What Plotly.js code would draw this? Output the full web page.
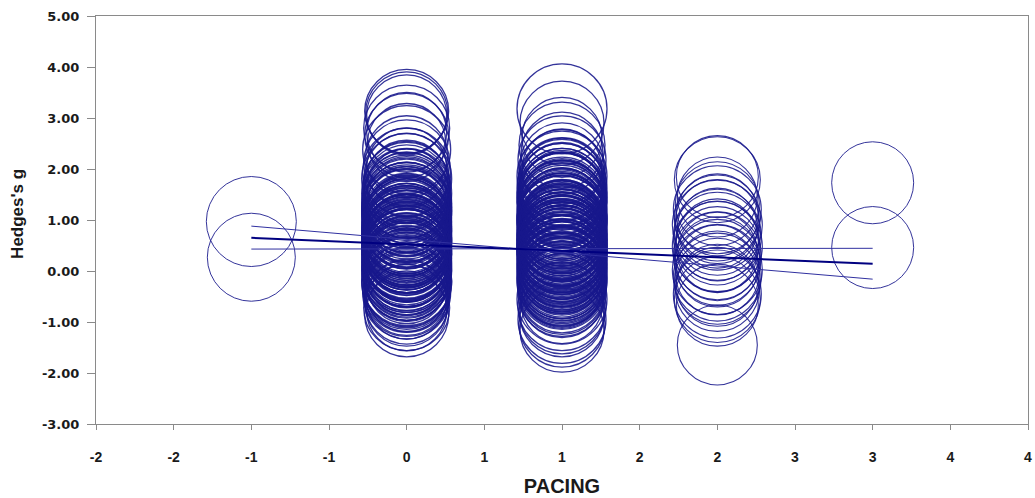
<!DOCTYPE html>
<html>
<head>
<meta charset="utf-8">
<script src="https://cdn.plot.ly/plotly-3.0.1.min.js"></script>
<style>html,body{margin:0;padding:0;background:#fff;}#chart{width:1035px;height:498px;}</style>
</head>
<body>
<div id="chart"></div>
<script>
// Pacing levels and Hedges's g per study
const pacingLevels = [-1, 0, 1, 2, 3];

const gAtMinus1 = [0.97, 0.27];
const sizeAtMinus1 = [90, 88];

const gAt0 = [3.13, 3.10, 3.06, 2.80, 2.72, 2.66, 2.52, 2.38, 2.24, 2.12, 2.02, 1.94, 1.88, 1.81, 1.76, 1.70, 1.66, 1.61, 1.57, 1.52,
  1.49, 1.44, 1.41, 1.37, 1.33, 1.29, 1.26, 1.22, 1.19, 1.15, 1.12, 1.08, 1.05, 1.03, 0.99, 0.96, 0.93, 0.91, 0.88, 0.85,
  0.83, 0.80, 0.77, 0.75, 0.72, 0.70, 0.67, 0.65, 0.62, 0.60, 0.58, 0.55, 0.53, 0.50, 0.48, 0.46, 0.43, 0.41, 0.38, 0.36,
  0.33, 0.31, 0.28, 0.25, 0.23, 0.20, 0.17, 0.15, 0.12, 0.09, 0.06, 0.03, 0.01, -0.03, -0.06, -0.10, -0.13, -0.17, -0.21, -0.25,
  -0.30, -0.34, -0.39, -0.44, -0.49, -0.55, -0.61, -0.67, -0.72, -0.78, -0.86,
  1.63, 1.46, 1.31, 1.17, 1.01, 0.94, 0.87, 0.79, 0.73, 0.68, 0.64, 0.57, 0.52, 0.47, 0.44, 0.40, 0.35, 0.29, 0.26, 0.21,
  0.14, 0.07, 0.02, -0.04, -0.08, -0.15, -0.19, -0.27, -0.36, -0.42, 0.56, 0.61, 0.71, 0.81, 0.97, 1.10, 1.24, 0.49, 0.39, 0.18];
const sizeAt0 = [84, 82, 80, 86, 80, 84, 78, 88, 82, 86, 80, 88, 84, 90, 82, 86, 88, 80, 84, 90,
  86, 82, 88, 84, 90, 86, 80, 88, 84, 86, 90, 82, 88, 86, 84, 90, 80, 88, 86, 82,
  90, 84, 88, 86, 80, 90, 84, 88, 82, 86, 90, 84, 88, 80, 86, 90, 82, 88, 84, 86,
  90, 80, 88, 84, 86, 82, 90, 86, 84, 88, 80, 86, 90, 84, 82, 88, 86, 84, 90, 80,
  86, 88, 82, 84, 86, 80, 84, 82, 86, 80, 84,
  86, 88, 84, 90, 86, 88, 82, 90, 86, 84, 88, 90, 86, 82, 88, 84, 90, 86, 88, 84,
  86, 90, 82, 88, 86, 84, 90, 86, 84, 88, 86, 90, 84, 88, 86, 82, 90, 88, 84, 86];

const gAt1 = [3.18, 2.90, 2.62, 2.47, 2.31, 2.18, 2.08, 2.00, 1.93, 1.86, 1.80, 1.75, 1.70, 1.66, 1.62, 1.58, 1.54, 1.50, 1.47, 1.43,
  1.40, 1.37, 1.33, 1.30, 1.27, 1.24, 1.21, 1.18, 1.15, 1.12, 1.09, 1.06, 1.04, 1.01, 0.98, 0.95, 0.93, 0.90, 0.88, 0.85,
  0.82, 0.80, 0.77, 0.75, 0.72, 0.70, 0.67, 0.65, 0.63, 0.60, 0.58, 0.56, 0.53, 0.51, 0.49, 0.46, 0.44, 0.42, 0.39, 0.37,
  0.35, 0.32, 0.30, 0.28, 0.25, 0.23, 0.21, 0.18, 0.16, 0.13, 0.11, 0.08, 0.06, 0.03, 0.01, -0.02, -0.05, -0.08, -0.11, -0.14,
  -0.17, -0.20, -0.24, -0.28, -0.32, -0.37, -0.42, -0.48, -0.55, -0.62, -0.70, -0.78, -0.86, -0.95, -1.04, -1.16,
  1.72, 1.56, 1.45, 1.35, 1.25, 1.14, 1.03, 0.96, 0.91, 0.86, 0.78, 0.73, 0.68, 0.62, 0.57, 0.52, 0.47, 0.43, 0.38, 0.33,
  0.27, 0.22, 0.17, 0.12, 0.07, 0.02, -0.04, -0.09, -0.15, -0.22, -0.30, -0.40, 0.55, 0.61, 0.66, 0.71, 0.81, 0.89, 0.99, 1.08,
  1.19, 1.31, 1.49, 0.41, 0.36, 0.24, 0.14, 0.04, -0.12, 0.50];
const sizeAt1 = [90, 84, 80, 86, 82, 88, 84, 80, 86, 90, 82, 88, 84, 86, 90, 80, 88, 84, 86, 90,
  82, 88, 86, 84, 90, 80, 88, 86, 82, 90, 84, 88, 86, 80, 90, 84, 88, 82, 86, 90,
  84, 88, 80, 86, 90, 82, 88, 84, 86, 90, 80, 88, 84, 86, 82, 90, 88, 84, 86, 80,
  90, 84, 88, 82, 86, 90, 84, 80, 88, 86, 82, 90, 84, 88, 86, 80, 90, 84, 88, 82,
  86, 90, 84, 88, 80, 86, 88, 84, 90, 82, 88, 86, 84, 88, 86, 84,
  88, 86, 90, 84, 88, 86, 90, 82, 88, 86, 84, 90, 88, 86, 84, 90, 82, 88, 86, 90,
  84, 88, 86, 90, 82, 88, 84, 86, 90, 88, 84, 86, 88, 90, 84, 86, 88, 82, 90, 86,
  84, 88, 86, 90, 84, 88, 86, 84, 88, 90];

const gAt2 = [1.85, 1.79, 1.45, 1.32, 1.20, 1.10, 1.04, 0.97, 0.90, 0.84, 0.76, 0.68, 0.61, 0.55, 0.48, 0.42, 0.37, 0.30, 0.24, 0.17,
  0.10, 0.03, -0.04, -0.12, -0.20, -0.28, -0.36, -0.45, -0.56, -0.67, -1.45];
const sizeAt2 = [82, 86, 80, 84, 88, 82, 86, 84, 90, 80, 86, 88, 82, 84, 90, 86, 80, 88, 84, 86,
  82, 90, 84, 88, 86, 82, 84, 88, 86, 82, 80];

const gAt3 = [1.73, 0.46];
const sizeAt3 = [82, 82];

// Regression line and its bounds at the end points
const regX = [-1, 3];
const regFit = [0.65, 0.14];
const regBoundA = [0.88, -0.16];
const regBoundB = [0.43, 0.445];

// X tick positions and their (rounded) labels as printed
const xTickVals = [-2, -1.5, -1, -0.5, 0, 0.5, 1, 1.5, 2, 2.5, 3, 3.5, 4];
const xTickText = ["-2", "-2", "-1", "-1", "0", "1", "1", "2", "2", "3", "3", "4", "4"];
const yTickVals = [-3, -2, -1, 0, 1, 2, 3, 4, 5];
const yTickText = ["-3.00", "-2.00", "-1.00", "0.00", "1.00", "2.00", "3.00", "4.00", "5.00"];

const groupsG = [gAtMinus1, gAt0, gAt1, gAt2, gAt3];
const groupsS = [sizeAtMinus1, sizeAt0, sizeAt1, sizeAt2, sizeAt3];
const groupStroke = [1, 1.3, 1.3, 1.1, 1];

const navy = '#000080';
const traces = [];
groupsG.forEach((g, i) => {
  traces.push({
    type: 'scatter', mode: 'markers',
    x: g.map(() => pacingLevels[i]), y: g,
    marker: {symbol: 'circle-open', size: groupsS[i], color: '#18188c', opacity: 0.88, line: {width: groupStroke[i], color: '#18188c'}},
    cliponaxis: false, hoverinfo: 'x+y', showlegend: false
  });
});
traces.push({type: 'scatter', mode: 'lines', x: regX, y: regBoundA, line: {color: '#3030a0', width: 1}, showlegend: false});
traces.push({type: 'scatter', mode: 'lines', x: regX, y: regBoundB, line: {color: '#3030a0', width: 1}, showlegend: false});
traces.push({type: 'scatter', mode: 'lines', x: regX, y: regFit, line: {color: navy, width: 2}, showlegend: false});

const txt = '#1a1a1a';
const layout = {
  width: 1035, height: 498,
  margin: {l: 96, r: 7, t: 16, b: 74, pad: 0},
  paper_bgcolor: '#ffffff', plot_bgcolor: '#ffffff',
  showlegend: false,
  xaxis: {
    range: [-2, 4], tickmode: 'array', tickvals: xTickVals, ticktext: xTickText,
    showgrid: false, zeroline: false, showline: true, mirror: true,
    linecolor: '#8a8a8a', linewidth: 1, ticks: 'outside', ticklen: 5, tickcolor: '#8a8a8a',
    tickfont: {family: 'Liberation Sans Narrow, Liberation Sans, Arial, sans-serif', size: 14, color: txt, weight: 'bold'},
    ticklabelstandoff: 15,
    title: {text: 'PACING', font: {family: 'Liberation Sans, Arial, sans-serif', size: 20, color: txt, weight: 'bold'}, standoff: 15},
    automargin: false
  },
  yaxis: {
    range: [-3, 5], tickmode: 'array', tickvals: yTickVals, ticktext: yTickText,
    showgrid: false, zeroline: false, showline: true, mirror: true,
    linecolor: '#8a8a8a', linewidth: 1, ticks: 'outside', ticklen: 8, tickcolor: '#8a8a8a',
    tickfont: {family: 'DejaVu Sans, Verdana, sans-serif', size: 13, color: txt, weight: 'bold'},
    ticklabelstandoff: 5,
    automargin: false
  },
  annotations: [{
    text: "Hedges's g", textangle: -90, showarrow: false,
    xref: 'paper', yref: 'paper', x: 0, y: 0.515, xanchor: 'center', yanchor: 'middle', xshift: -78,
    font: {family: 'Liberation Sans, Arial, sans-serif', size: 17, color: txt, weight: 'bold'}
  }]
};
Plotly.newPlot('chart', traces, layout, {displayModeBar: false, staticPlot: true});
</script>
</body>
</html>
